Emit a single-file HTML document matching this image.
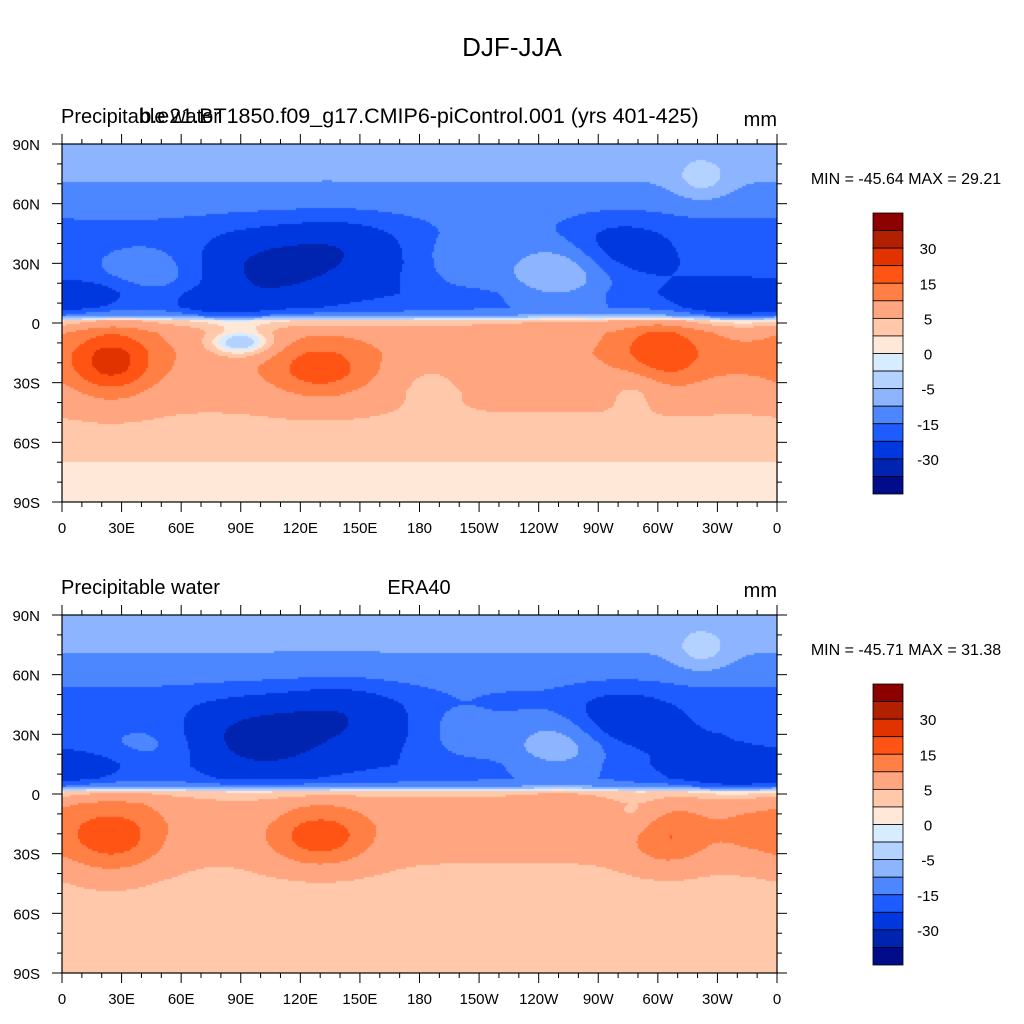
<!DOCTYPE html>
<html><head><meta charset="utf-8"><style>
body{margin:0;background:#fff;font-family:"Liberation Sans",sans-serif;}
#wrap{position:relative;width:1024px;height:1024px;overflow:hidden;}
canvas{position:absolute;left:0;top:0;}
svg{position:absolute;left:0;top:0;}
</style></head><body>
<div id="wrap">
<canvas id="cv" width="1024" height="1024"></canvas>
<svg id="sv" width="1024" height="1024"></svg>
</div>
<script>
// ----- data -----
const levels = [-40,-30,-20,-15,-10,-5,-2,0,2,5,10,15,20,30,40];
const colors = ["#000c8a","#0024b0","#0038e0","#1e5cff","#4c87ff","#8cb4ff","#b4d2ff","#d8ecff","#ffe8d8","#ffc8aa","#ffa57f","#ff7f45","#ff5414","#e03300","#b22000","#8c0000"];
const labelVals = [30,15,5,0,-5,-15,-30];
const xTickLabels = ["0","30E","60E","90E","120E","150E","180","150W","120W","90W","60W","30W","0"];
const yTickLabels = ["90N","60N","30N","0","30S","60S","90S"];
// zonal profile [lat, value]
const zonalLats = [90,75,60,45,30,15,8,4,1,-5,-15,-25,-35,-45,-55,-65,-72,-90];
const zonalTop  = [-6,-9,-13,-17,-19,-20,-18,-12,3,8,9,8,6,5,4,3,1.5,1.5];
const zonalBot  = [-6,-9,-13,-18,-20,-20,-18,-12,3,7,7,6,5,4,4,3,2.5,2.5];
// blobs: [lon, lat, amp, sx, sy]
const blobsTop = [[105,28,-14,25,12],[140,38,-8,20,10],[45,25,8,25,10],[18,15,-5,15,6],[250,25,14,22,12],[200,30,6,15,12],[280,38,-8,18,10],[340,10,-10,20,6],[80,10,-8,15,5],[322,72,7,10,7],[25,-20,14,15,12],[130,-24,10,18,10],[302,-15,11,16,12],[90,-10,-13,12,5],[185,-25,-3,15,10],[290,-30,-4,10,8],[345,-20,2,14,10]];
const blobsBot = [[100,28,-16,25,12],[140,40,-9,20,10],[45,25,7,25,10],[18,15,-4,15,6],[250,25,13,22,12],[200,30,6,15,12],[280,38,-9,18,10],[340,10,-10,20,6],[322,72,7,10,7],[25,-22,12,18,12],[130,-22,12,18,10],[305,-22,9,14,10],[90,-10,-2,12,5],[290,-10,-4,10,8],[345,-20,4,14,10]];
const minmax = [["-45.64","29.21"],["-45.71","31.38"]];

// ----- layout -----
const X0=62,X1=777;
const panels=[{top:144,bot:502,zonal:zonalTop,blobs:blobsTop,mm:minmax[0],cb:213},{top:615,bot:973,zonal:zonalBot,blobs:blobsBot,mm:minmax[1],cb:684}];
const xs=lon=>X0+lon/360*(X1-X0);
function interp(lats,vals,lat){for(let i=0;i<lats.length-1;i++){if(lat<=lats[i]&&lat>=lats[i+1]){const t=(lats[i]-lat)/(lats[i]-lats[i+1]);return vals[i]+t*(vals[i+1]-vals[i]);}}return vals[vals.length-1];}
function field(p,lon,lat){let v=interp(zonalLats,p.zonal,lat);for(const b of p.blobs){let dl=lon-b[0];if(dl>180)dl-=360;if(dl<-180)dl+=360;v+=b[2]*Math.exp(-(dl*dl)/(2*b[3]*b[3])-((lat-b[1])*(lat-b[1]))/(2*b[4]*b[4]));}return v;}
function colorOf(v){let i=0;while(i<levels.length&&v>=levels[i])i++;return colors[i];}
const ctx=document.getElementById('cv').getContext('2d');
const step=2;
for(const p of panels){
  for(let py=p.top;py<p.bot;py+=step){for(let px=X0;px<X1;px+=step){
    const lon=(px+step/2-X0)/(X1-X0)*360, lat=90-(py+step/2-p.top)/(p.bot-p.top)*180;
    ctx.fillStyle=colorOf(field(p,lon,lat));ctx.fillRect(px,py,Math.min(step,X1-px),Math.min(step,p.bot-py));}}
}
// ----- svg overlay -----
const NS="http://www.w3.org/2000/svg",sv=document.getElementById('sv');
function mk(tag,attrs,name){const e=document.createElementNS(NS,tag);for(const k in attrs)e.setAttribute(k,attrs[k]);


sv.appendChild(e);return e;}
function txt(x,y,s,size,anchor,name){const t=mk('text',{x:x,y:y,'font-size':size,'text-anchor':anchor||'middle','font-family':'Liberation Sans, sans-serif',fill:'#000'},name);t.textContent=s;return t;}
txt(512,56,"DJF-JJA",26,'middle','main-title');
panels.forEach((p,pi)=>{
  const ys=lat=>p.top+(90-lat)/180*(p.bot-p.top);
  mk('rect',{x:X0,y:p.top,width:X1-X0,height:p.bot-p.top,fill:'none',stroke:'#000','stroke-width':1.2},'plot-frame');
  for(let lon=0;lon<=360;lon+=10){const x=xs(lon),L=lon%30==0?10:5;
    mk('line',{x1:x,x2:x,y1:p.top,y2:p.top-L,stroke:'#000'},'x-tick-top');
    mk('line',{x1:x,x2:x,y1:p.bot,y2:p.bot+L,stroke:'#000'},'x-tick-bottom');}
  for(let lat=-90;lat<=90;lat+=10){const y=ys(lat),L=lat%30==0?10:5;
    mk('line',{x1:X0,x2:X0-L,y1:y,y2:y,stroke:'#000'},'y-tick-left');
    mk('line',{x1:X1,x2:X1+L,y1:y,y2:y,stroke:'#000'},'y-tick-right');}
  xTickLabels.forEach((s,i)=>txt(xs(i*30),p.bot+31,s,15,'middle','x-tick-label'));
  yTickLabels.forEach((s,i)=>txt(40,ys(90-i*30)+6,s,15,'end','y-tick-label'));
  const ty=p.top-21;
  txt(61,ty,"Precipitable water",20,'start','left-title');
  if(pi==0)txt(419,ty,"b.e21.BT1850.f09_g17.CMIP6-piControl.001 (yrs 401-425)",21.5,'middle','case-title');
  else txt(419,ty,"ERA40",20,'middle','case-title');
  txt(777,ty+3,"mm",20,'end','units-label');
  txt(906,p.top+40,"MIN = "+p.mm[0]+" MAX =  "+p.mm[1],16,'middle','min-max-text');
  const cbTop=p.cb,h=281/16;
  for(let i=0;i<16;i++){mk('rect',{x:873,y:cbTop+i*h,width:30,height:h,fill:colors[15-i],stroke:'#000','stroke-width':0.8},'colorbar-box');}
  labelVals.forEach((v,i)=>{const idx=levels.indexOf(v);const y=cbTop+(15-idx)*h;txt(928,y+6,String(v),15,'middle','colorbar-label');});
});
</script>
</body></html>
